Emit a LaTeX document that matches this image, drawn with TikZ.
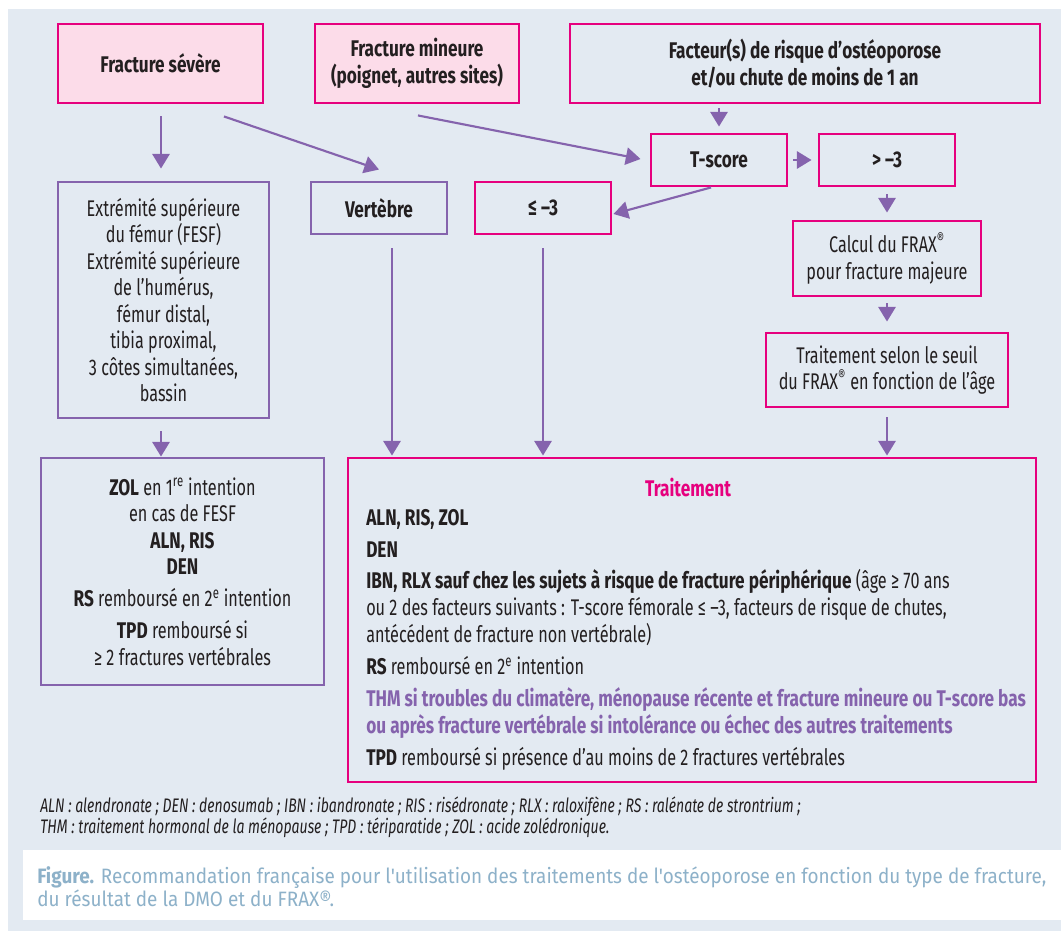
\documentclass[tikz,border=0pt]{standalone}
\usepackage{fontspec}
\setmainfont{Fira Sans}[FakeStretch=0.716, BoldFeatures={FakeStretch=0.76}]
\newfontfamily\capfont{Fira Sans}[FakeStretch=0.91]
\usetikzlibrary{arrows.meta,calc}
\definecolor{bg}{HTML}{E3EAF2}
\definecolor{mag}{HTML}{E6007E}
\definecolor{pinkfill}{HTML}{FCDCE9}
\definecolor{purp}{HTML}{8563AD}
\definecolor{txt}{HTML}{231F20}
\definecolor{capblue}{HTML}{8DB1C9}
\begin{document}
\begin{tikzpicture}[x=0.75pt,y=-0.75pt,
  boxtext/.style={font=\fontsize{17pt}{19.9pt}\selectfont, text=txt, align=center, inner sep=0pt},
  magbox/.style={boxtext, draw=mag, line width=2.2pt, rectangle},
  pinkbox/.style={magbox, fill=pinkfill},
  purpbox/.style={boxtext, draw=purp, line width=2.2pt, rectangle},
  arr/.style={draw=purp, line width=1.6pt, -{Triangle[width=13pt,length=11pt]}},
]
\useasboundingbox (0,0) rectangle (1061,931);
\fill[white] (0,0) rectangle (1061,931);
\fill[bg] (8,9) rectangle (1061,931);
\fill[white] (23,850) rectangle (1061,920);

% top row
\node[pinkbox, minimum width=153.75pt, minimum height=59.25pt] (sev) at (160.5,63.5) {\bfseries Fracture sévère};
\node[pinkbox, minimum width=153pt, minimum height=59.25pt] (min) at (417,63.5) {\bfseries Fracture mineure\\\bfseries (poignet, autres sites)};
\node[magbox, minimum width=352.5pt, minimum height=59.25pt] (fac) at (805,63.5) {\bfseries Facteur(s) de risque d’ostéoporose\\\bfseries et/ou chute de moins de 1 an};

% T-score row
\node[magbox, minimum width=102pt, minimum height=39pt] (tsc) at (719,160) {\bfseries T-score};
\node[magbox, minimum width=102pt, minimum height=39pt] (gt) at (887,160) {\bfseries > –3};

% second row
\node[purpbox, minimum width=158.25pt, minimum height=177pt] (ext) at (163.5,300) {Extrémité supérieure\\du fémur (FESF)\\Extrémité supérieure\\de l’humérus,\\fémur distal,\\tibia proximal,\\3 côtes simultanées,\\bassin};
\node[purpbox, minimum width=102pt, minimum height=39pt] (vert) at (379,208) {\bfseries Vertèbre};
\node[magbox, minimum width=102pt, minimum height=39pt] (le) at (543,208) {\bfseries ≤ –3};
\node[magbox, minimum width=141pt, minimum height=56.25pt] (calc) at (887,258.5) {Calcul du FRAX\textsuperscript{®}\\pour fracture majeure};
\node[magbox, minimum width=181.5pt, minimum height=55.5pt] (tsel) at (887,370) {Traitement selon le seuil\\du FRAX\textsuperscript{®} en fonction de l’âge};

% bottom boxes
\node[purpbox, minimum width=212.25pt, minimum height=170.25pt] (zol) at (182.5,571.5) {\textbf{ZOL} en 1\textsuperscript{re} intention\\en cas de FESF\\\textbf{ALN, RIS}\\\textbf{DEN}\\[4pt]\textbf{RS} remboursé en 2\textsuperscript{e} intention\\[4pt]\textbf{TPD} remboursé si\\≥ 2 fractures vertébrales};
\node[magbox, minimum width=516pt, minimum height=243pt] (trt) at (692,620) {};
\node[boxtext, text=mag, font=\fontsize{17pt}{19.9pt}\selectfont\bfseries] (trttitle) at (688,487) {Traitement};
\node[boxtext, align=left, anchor=north west, font=\fontsize{17pt}{20.25pt}\selectfont] (trtbody) at (366,509) {\textbf{ALN, RIS, ZOL}\\[3.5pt]
\textbf{DEN}\\[3.5pt]
\textbf{IBN, RLX sauf chez les sujets à risque de fracture périphérique} (âge ≥ 70 ans\\
ou 2 des facteurs suivants : T-score fémorale ≤ –3, facteurs de risque de chutes,\\
antécédent de fracture non vertébrale)\\[3.5pt]
\textbf{RS} remboursé en 2\textsuperscript{e} intention\\[4pt]
\textcolor{purp}{\textbf{THM si troubles du climatère, ménopause récente et fracture mineure ou T-score bas}}\\
\textcolor{purp}{\textbf{ou après fracture vertébrale si intolérance ou échec des autres traitements}}\\[3.5pt]
\textbf{TPD} remboursé si présence d’au moins de 2 fractures vertébrales};

% footnote and caption
\node[text=txt, align=left, anchor=west, inner sep=0pt, font=\fontsize{14.7pt}{15.75pt}\selectfont\itshape] (foot) at (40,817.5) {ALN : alendronate ; DEN : denosumab ; IBN : ibandronate ; RIS : risédronate ; RLX : raloxifène ; RS : ralénate de strontrium ;\\THM : traitement hormonal de la ménopause ; TPD : tériparatide ; ZOL : acide zolédronique.};
\node[text=capblue, align=left, anchor=west, inner sep=0pt, font=\capfont\fontsize{15.6pt}{17.25pt}\selectfont] (cap) at (37,886.5) {\textbf{Figure.} Recommandation française pour l'utilisation des traitements de l'ostéoporose en fonction du type de fracture,\\du résultat de la DMO et du FRAX®.};

% connectors
\draw[arr] ($(sev.south)+(0.5,12)$) -- ($(sev.south|-ext.north)+(0.5,-12)$);
\draw[arr] ($(sev.south)+(63.5,12)$) -- ($(vert.north)+(0,-11)$);
\draw[arr] ($(min.south)+(1,11)$) -- ($(tsc.west)+(-9,-1)$);
\draw[arr] ($(tsc.north|-fac.south)+(0,4)$) -- ($(tsc.north)+(0,-6)$);
\draw[arr] ($(tsc.east)+(5,0)$) -- ($(gt.west)+(-6,0)$);
\draw[arr] ($(tsc.south)+(-8,0)$) -- ($(le.east)+(1,6)$);
\draw[arr] ($(le.south)+(0,13)$) -- ($(le.south|-trt.north)+(0,-1)$);
\draw[arr] ($(vert.south)+(13,13)$) -- ($(vert.south|-trt.north)+(13,-1)$);
\draw[arr] ($(gt.south)+(0,7)$) -- ($(calc.north)+(0,-7)$);
\draw[arr] ($(calc.south)+(0,6)$) -- ($(tsel.north)+(0,-10)$);
\draw[arr] ($(tsel.south)+(0,9)$) -- ($(tsel.south|-trt.north)+(0,-1)$);
\draw[arr] ($(ext.south)+(-2.5,12)$) -- ($(ext.south|-zol.north)+(-2.5,0)$);
\end{tikzpicture}
\end{document}
